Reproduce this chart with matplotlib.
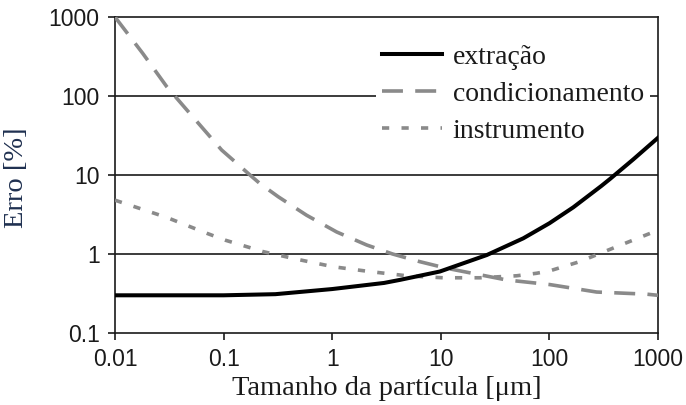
import matplotlib
matplotlib.use("Agg")
import matplotlib.pyplot as plt

# particle size [um] and error [%] for each contribution
x_extracao = [0.01, 0.1, 0.3, 1, 3, 4.2, 9.8, 26.5, 57.5, 100, 166, 300, 361, 593, 1000]
y_extracao = [0.30, 0.30, 0.31, 0.36, 0.43, 0.47, 0.60, 0.97, 1.58, 2.45, 3.9, 7.25, 8.9, 15.8, 29.6]

x_condic = [0.01, 0.018, 0.03, 0.049, 0.075, 0.096, 0.132, 0.175, 0.216, 0.319, 0.58,
            1.1, 2.08, 3.6, 6.4, 11.3, 40, 101, 272, 787, 1000]
y_condic = [1000, 347, 131, 60, 30.6, 20.7, 14.1, 10, 7.8, 5.3, 3.1,
            1.9, 1.30, 1.0, 0.80, 0.66, 0.47, 0.41, 0.33, 0.31, 0.30]

x_instr = [0.01, 0.03, 0.07, 0.103, 0.232, 0.47, 1.02, 2.2, 4.85, 10.5, 23, 50, 76,
           100, 190, 417, 1000]
y_instr = [4.8, 2.9, 1.83, 1.5, 1.07, 0.86, 0.69, 0.60, 0.53, 0.50, 0.50, 0.53, 0.57,
           0.61, 0.80, 1.24, 2.0]

xticks = [0.01, 0.1, 1, 10, 100, 1000]
xticklabels = ["0.01", "0.1", "1", "10", "100", "1000"]
yticks = [0.1, 1, 10, 100, 1000]
yticklabels = ["0.1", "1", "10", "100", "1000"]

SERIF = ["Liberation Serif", "DejaVu Serif"]
GRAY = "#8a8a8a"
INK = "#1a1a1a"

fig = plt.figure(figsize=(6.86, 4.05), dpi=100)
ax = fig.add_axes([0.1676, 0.1778, 0.7916, 0.7802])

ax.set_xscale("log")
ax.set_yscale("log")
ax.set_xlim(0.01, 1000)
ax.set_ylim(0.1, 1000)

for v in [1, 10, 100]:
    ax.axhline(v, color=INK, lw=1.2, zorder=1)

ax.plot(x_extracao, y_extracao, color="black", lw=2.9, label="extração",
        zorder=4, solid_joinstyle="round")
l2, = ax.plot(x_condic, y_condic, color=GRAY, lw=2.6, label="condicionamento", zorder=3)
l2.set_dashes((5.8, 3.4))
l3, = ax.plot(x_instr, y_instr, color=GRAY, lw=2.6, label="instrumento", zorder=3)
l3.set_dashes((2.0, 3.4))

ax.set_xticks(xticks)
ax.set_xticklabels(xticklabels)
ax.set_yticks(yticks)
ax.set_yticklabels(yticklabels)
ax.minorticks_off()
ax.tick_params(direction="out", length=5, width=1.2, color=INK,
               labelsize=16.5, labelcolor=INK, pad=6)
for lab in ax.get_xticklabels() + ax.get_yticklabels():
    lab.set_family("Liberation Sans")

for s in ax.spines.values():
    s.set_linewidth(1.2)
    s.set_color(INK)

ax.set_xlabel("Tamanho da partícula [μm]", family=SERIF, fontsize=20.5, color=INK)
ax.set_ylabel("Erro [%]", family=SERIF, fontsize=20.5, color="#1f3050")
ax.xaxis.set_label_coords(0.5, -0.135)
ax.yaxis.set_label_coords(-0.158, 0.49)

# white box hides the grid line behind the labels, but stays under the curves
leg = ax.legend(loc="upper left", bbox_to_anchor=(0.481, 0.93), frameon=True,
                facecolor="white", edgecolor="none", framealpha=1,
                prop={"family": SERIF, "size": 20}, handlelength=2.16,
                handletextpad=0.4, labelspacing=0.41, borderpad=0.2,
                borderaxespad=0.0)
leg.set_zorder(2)
for t in leg.get_texts():
    t.set_color(INK)

fig.savefig("out.png", dpi=100)
